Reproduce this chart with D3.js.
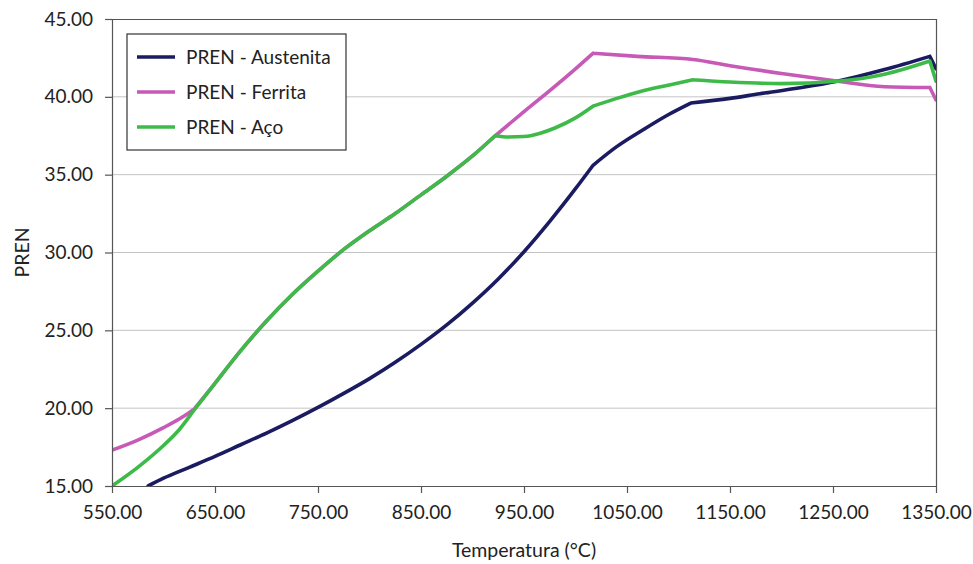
<!DOCTYPE html>
<html>
<head>
<meta charset="utf-8">
<script src="https://cdn.jsdelivr.net/npm/d3@7"></script>
<style>
  html, body { margin: 0; padding: 0; background: #fff; }
  svg { display: block; }
  text { font-family: Lato, "Open Sans", sans-serif; fill: #222; }
</style>
</head>
<body>
<svg id="chart" width="973" height="564"></svg>
<script>
// PREN vs temperature, [temperature °C, PREN]
const austenita = [[585,15.0],[600,15.5],[625,16.2],[650,16.9],[675,17.65],[700,18.4],[725,19.2],[750,20.05],[775,20.95],[800,21.9],[825,22.95],[850,24.1],[875,25.35],[900,26.75],[925,28.3],[950,30.05],[975,32.0],[1000,34.1],[1017,35.6],[1040,36.8],[1066,37.9],[1090,38.85],[1112,39.6],[1150,39.9],[1179,40.2],[1215,40.55],[1254,41.0],[1300,41.75],[1344,42.6],[1350,41.8]];
const ferrita = [[550,17.3],[575,17.95],[600,18.75],[620,19.5],[630,19.95],[650,21.6],[675,23.7],[700,25.6],[725,27.3],[750,28.8],[775,30.2],[800,31.4],[825,32.5],[850,33.7],[875,34.9],[900,36.2],[922,37.5],[950,39.05],[975,40.4],[1000,41.8],[1017,42.8],[1060,42.6],[1114,42.4],[1150,42.0],[1200,41.5],[1250,41.05],[1300,40.65],[1344,40.6],[1350,39.8]];
const aco = [[550,15.0],[575,16.2],[600,17.6],[615,18.6],[630,19.9],[650,21.6],[675,23.7],[700,25.6],[725,27.3],[750,28.8],[775,30.2],[800,31.4],[825,32.5],[850,33.7],[875,34.9],[900,36.2],[922,37.5],[935,37.42],[950,37.45],[965,37.65],[980,38.0],[1000,38.65],[1017,39.4],[1040,39.9],[1063,40.35],[1090,40.75],[1114,41.1],[1150,40.95],[1200,40.85],[1254,41.0],[1300,41.45],[1344,42.3],[1350,41.0]];

// temperatures where each curve changes direction abruptly
const austenitaBreaks = [1017, 1112, 1344];
const ferritaBreaks = [630, 922, 1017, 1344];
const acoBreaks = [922, 1017, 1114, 1344];

const seriesNames = ["PREN - Austenita", "PREN - Ferrita", "PREN - Aço"];
const seriesColors = ["#1b1b62", "#c65ab6", "#3dba48"];
const xTicks = [550, 650, 750, 850, 950, 1050, 1150, 1250, 1350];
const yTicks = [15, 20, 25, 30, 35, 40, 45];

const svg = d3.select("#chart");
const plotLeft = 112, plotRight = 936, plotTop = 19, plotBottom = 486;

const x = d3.scaleLinear().domain([550, 1350]).range([plotLeft, plotRight]);
const y = d3.scaleLinear().domain([15, 45]).range([plotBottom, plotTop]);

// horizontal gridlines
svg.append("g").selectAll("line")
  .data(yTicks.filter(v => v > 15 && v < 45))
  .join("line")
  .attr("x1", plotLeft).attr("x2", plotRight)
  .attr("y1", d => y(d)).attr("y2", d => y(d))
  .attr("stroke", "#c4c4c4").attr("stroke-width", 1);

// clip for the series
svg.append("clipPath").attr("id", "plot-clip")
  .append("rect").attr("x", plotLeft).attr("y", plotTop)
  .attr("width", plotRight - plotLeft).attr("height", plotBottom - plotTop);

const line = d3.line()
  .x(d => x(d[0])).y(d => y(d[1]))
  .curve(d3.curveMonotoneX);

// smooth between break temperatures, sharp corners at them
function segmentedPath(points, breaks) {
  const pieces = [];
  let current = [];
  points.forEach(p => {
    current.push(p);
    if (breaks.includes(p[0])) {
      pieces.push(current);
      current = [p];
    }
  });
  if (current.length > 1) pieces.push(current);
  return pieces.map(seg => line(seg)).join("");
}

const series = [
  { pts: austenita, breaks: austenitaBreaks },
  { pts: ferrita, breaks: ferritaBreaks },
  { pts: aco, breaks: acoBreaks }
];
svg.append("g").attr("clip-path", "url(#plot-clip)")
  .selectAll("path")
  .data(series)
  .join("path")
  .attr("d", d => segmentedPath(d.pts, d.breaks))
  .attr("fill", "none")
  .attr("stroke", (d, i) => seriesColors[i])
  .attr("stroke-width", 3.6)
  .attr("stroke-linejoin", "round")
  .attr("stroke-linecap", "round");

// plot frame (top and right)
svg.append("line").attr("x1", plotLeft).attr("x2", plotRight).attr("y1", plotTop + 0.5).attr("y2", plotTop + 0.5)
  .attr("stroke", "#555").attr("stroke-width", 1.2);
svg.append("line").attr("x1", plotRight + 0.5).attr("x2", plotRight + 0.5).attr("y1", plotTop).attr("y2", plotBottom)
  .attr("stroke", "#555").attr("stroke-width", 1.2);

// axes
const tickFont = 19;
const xAxis = d3.axisBottom(x).tickValues(xTicks).tickFormat(d3.format(".2f"))
  .tickSizeInner(7).tickSizeOuter(0).tickPadding(13);
const gx = svg.append("g").attr("transform", `translate(0,${plotBottom})`).call(xAxis);
gx.select(".domain").attr("stroke", "#555").attr("stroke-width", 1.2);
gx.selectAll(".tick line").attr("stroke", "#555").attr("stroke-width", 1.2);
gx.selectAll(".tick text").attr("font-size", tickFont).attr("font-family", "Lato, 'Open Sans', sans-serif").attr("fill", "#222");

const yAxis = d3.axisLeft(y).tickValues(yTicks).tickFormat(d3.format(".2f"))
  .tickSizeInner(7).tickSizeOuter(0).tickPadding(12);
const gy = svg.append("g").attr("transform", `translate(${plotLeft},0)`).call(yAxis);
gy.select(".domain").attr("stroke", "#555").attr("stroke-width", 1.2);
gy.selectAll(".tick line").attr("stroke", "#555").attr("stroke-width", 1.2);
gy.selectAll(".tick text").attr("font-size", tickFont).attr("font-family", "Lato, 'Open Sans', sans-serif").attr("fill", "#222");

// axis titles
svg.append("text").attr("x", (plotLeft + plotRight) / 2).attr("y", 557)
  .attr("text-anchor", "middle").attr("font-size", 19.5).text("Temperatura (°C)");
svg.append("text").attr("transform", `translate(29,${(plotTop + plotBottom) / 2}) rotate(-90)`)
  .attr("text-anchor", "middle").attr("font-size", 19.5).text("PREN");

// legend
const lg = svg.append("g").attr("transform", "translate(127,34)");
lg.append("rect").attr("width", 219).attr("height", 116)
  .attr("fill", "#fff").attr("stroke", "#333").attr("stroke-width", 1.2);
const items = lg.selectAll("g.item").data(seriesNames).join("g")
  .attr("class", "item")
  .attr("transform", (d, i) => `translate(0,${23 + i * 35})`);
items.append("line").attr("x1", 10).attr("x2", 48).attr("y1", 0).attr("y2", 0)
  .attr("stroke", (d, i) => seriesColors[i]).attr("stroke-width", 3.6);
items.append("text").attr("x", 59).attr("y", 6.5).attr("font-size", 19).text(d => d);
</script>
</body>
</html>
